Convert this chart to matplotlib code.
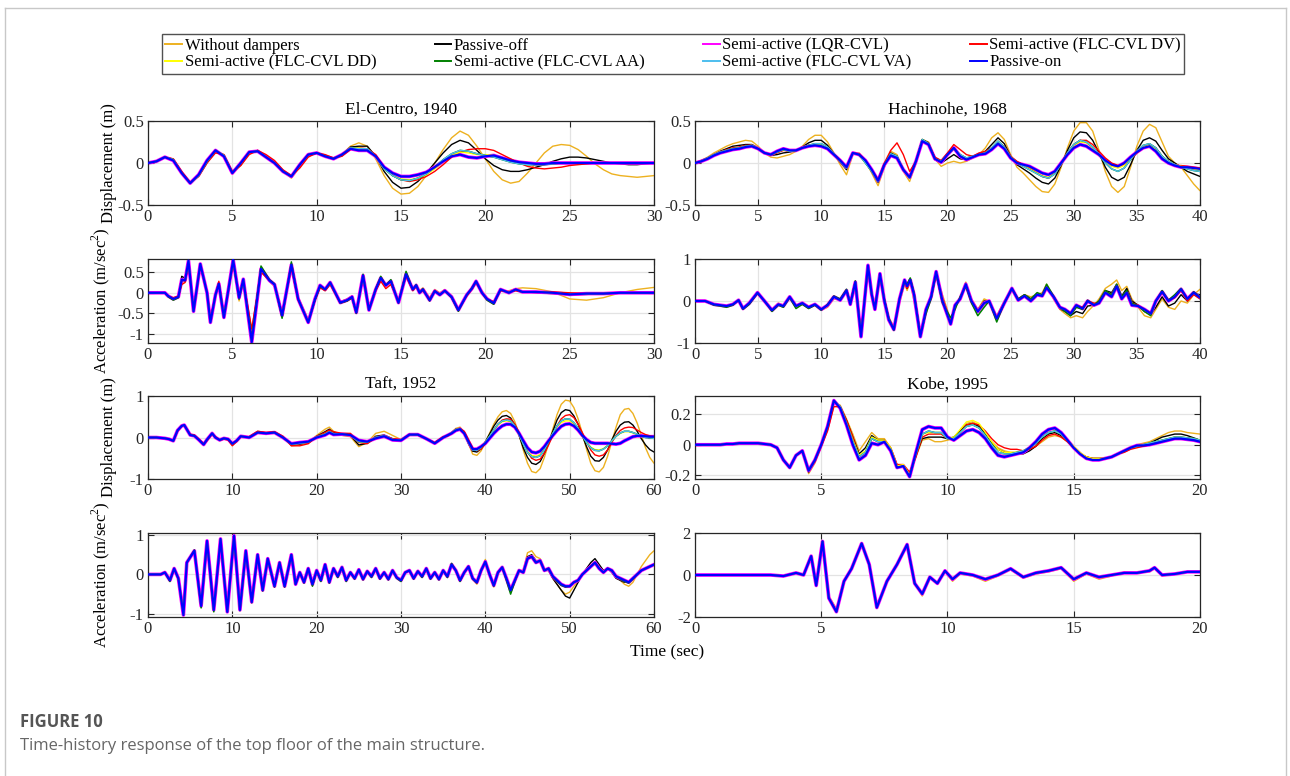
import numpy as np
import matplotlib.pyplot as plt
from matplotlib.lines import Line2D
from matplotlib.ticker import FuncFormatter

plt.rcParams['font.family'] = ['Liberation Serif', 'DejaVu Serif']
plt.rcParams['mathtext.fontset'] = 'custom'
plt.rcParams['mathtext.rm'] = 'Liberation Serif'
plt.rcParams['axes.unicode_minus'] = False

W, H = 1290, 776

labels = ['Without dampers', 'Passive-off', 'Semi-active (LQR-CVL)',
          'Semi-active (FLC-CVL DV)', 'Semi-active (FLC-CVL DD)',
          'Semi-active (FLC-CVL AA)', 'Semi-active (FLC-CVL VA)', 'Passive-on']
colors = ['#EDB120', '#000000', '#FF00FF', '#FF0000', '#FFFF00', '#008000', '#4DBEEE', '#0000FF']
widths = [1.0, 1.0, 2.6, 1.0, 1.0, 1.1, 1.0, 1.6]

# ---------------- El-Centro 1940, displacement (m) ----------------
elc_d_t = np.arange(0, 30.01, 0.5)
elc_d_none = [0, 0.02, 0.07, 0.04, -0.11, -0.24, -0.16, 0.00, 0.14, 0.10,
              -0.13, -0.03, 0.12, 0.15, 0.08, 0.02, -0.10, -0.18, -0.05, 0.09,
              0.12, 0.08, 0.06, 0.10, 0.20, 0.24, 0.20, 0.05, -0.15, -0.30,
              -0.37, -0.36, -0.28, -0.15, 0.00, 0.16, 0.30, 0.38, 0.33, 0.20,
              0.05, -0.10, -0.20, -0.24, -0.22, -0.12, 0.00, 0.12, 0.20, 0.22,
              0.21, 0.16, 0.08, -0.01, -0.08, -0.13, -0.15, -0.16, -0.17, -0.16,
              -0.15]
elc_d_poff = [0, 0.02, 0.07, 0.04, -0.11, -0.24, -0.15, 0.01, 0.15, 0.09,
              -0.12, -0.02, 0.12, 0.15, 0.07, 0.01, -0.10, -0.17, -0.03, 0.10,
              0.12, 0.08, 0.06, 0.10, 0.19, 0.20, 0.20, 0.08, -0.10, -0.23,
              -0.30, -0.29, -0.22, -0.12, 0.00, 0.12, 0.22, 0.27, 0.24, 0.15,
              0.05, -0.03, -0.08, -0.10, -0.10, -0.08, -0.05, -0.02, 0.02, 0.05,
              0.07, 0.07, 0.06, 0.04, 0.02, 0.00, -0.01, -0.02, -0.02, -0.01,
              0.00]
elc_d_lqr = [0, 0.02, 0.07, 0.03, -0.12, -0.24, -0.14, 0.03, 0.15, 0.08,
             -0.12, 0.00, 0.13, 0.14, 0.07, 0.00, -0.10, -0.16, -0.02, 0.10,
             0.12, 0.08, 0.05, 0.10, 0.17, 0.15, 0.15, 0.08, -0.05, -0.12,
             -0.16, -0.16, -0.14, -0.11, -0.05, 0.02, 0.08, 0.10, 0.07, 0.06,
             0.08, 0.09, 0.06, 0.03, 0.01, 0.00, -0.01, -0.01, 0.00, 0.00,
             0, 0, 0, 0, 0, 0, 0, 0, 0, 0,
             0]
elc_d_dv = [0, 0.02, 0.07, 0.05, -0.10, -0.23, -0.16, 0.00, 0.12, 0.10,
            -0.10, -0.03, 0.10, 0.15, 0.10, 0.03, -0.08, -0.15, -0.06, 0.07,
            0.12, 0.10, 0.06, 0.08, 0.16, 0.18, 0.17, 0.10, -0.05, -0.15,
            -0.20, -0.22, -0.20, -0.16, -0.10, -0.02, 0.07, 0.13, 0.16, 0.17,
            0.17, 0.15, 0.10, 0.05, 0.00, -0.04, -0.06, -0.07, -0.06, -0.05,
            -0.03, -0.02, -0.01, 0, 0, 0, 0, 0, 0, 0,
            0]
elc_d_dd = [0, 0.02, 0.07, 0.04, -0.12, -0.24, -0.15, 0.02, 0.15, 0.09,
            -0.12, 0.00, 0.13, 0.14, 0.07, 0.00, -0.10, -0.16, -0.02, 0.10,
            0.12, 0.08, 0.05, 0.10, 0.18, 0.18, 0.16, 0.07, -0.07, -0.15,
            -0.19, -0.20, -0.18, -0.14, -0.07, 0.02, 0.09, 0.13, 0.12, 0.10,
            0.10, 0.09, 0.05, 0.02, 0.00, -0.01, -0.01, -0.01, 0.00, 0.00,
            0, 0, 0, 0, 0, 0, 0, 0, 0, 0,
            0]
elc_d_va = [0, 0.02, 0.07, 0.04, -0.12, -0.24, -0.15, 0.02, 0.15, 0.09,
            -0.12, 0.00, 0.13, 0.14, 0.07, 0.00, -0.10, -0.16, -0.02, 0.10,
            0.12, 0.08, 0.05, 0.10, 0.18, 0.17, 0.17, 0.08, -0.07, -0.15,
            -0.20, -0.21, -0.18, -0.13, -0.05, 0.04, 0.11, 0.15, 0.14, 0.11,
            0.09, 0.07, 0.04, 0.01, -0.01, -0.02, -0.02, -0.02, -0.01, 0.00,
            0, 0, 0, 0, 0, 0, 0, 0, 0, 0,
            0]

# ---------------- Hachinohe 1968, displacement (m) ----------------
hac_d_t = np.arange(0, 40.01, 0.5)
hac_d_none = [0.00, 0.03, 0.07, 0.12, 0.16, 0.20, 0.23, 0.25, 0.27, 0.26,
              0.20, 0.12, 0.07, 0.06, 0.08, 0.10, 0.14, 0.20, 0.28, 0.33,
              0.33, 0.25, 0.12, -0.02, -0.14, 0.10, 0.12, 0.03, -0.12, -0.27,
              -0.05, 0.14, 0.10, -0.10, -0.22, 0.00, 0.28, 0.25, 0.05, -0.04,
              0.00, 0.02, 0.00, 0.02, 0.06, 0.10, 0.18, 0.30, 0.36, 0.28,
              0.10, -0.05, -0.12, -0.20, -0.28, -0.34, -0.35, -0.25, -0.05, 0.18,
              0.38, 0.48, 0.48, 0.38, 0.15, -0.10, -0.28, -0.35, -0.28, -0.05,
              0.20, 0.38, 0.46, 0.42, 0.25, 0.08, 0.00, -0.05, -0.15, -0.25,
              -0.33]
hac_d_poff = [0.00, 0.03, 0.06, 0.10, 0.14, 0.17, 0.20, 0.21, 0.22, 0.22,
              0.18, 0.12, 0.09, 0.10, 0.12, 0.13, 0.15, 0.19, 0.24, 0.27,
              0.27, 0.21, 0.11, 0.01, -0.08, 0.12, 0.11, 0.02, -0.10, -0.23,
              -0.03, 0.12, 0.08, -0.08, -0.18, 0.00, 0.28, 0.24, 0.04, 0.00,
              0.05, 0.10, 0.05, 0.04, 0.07, 0.10, 0.14, 0.22, 0.30, 0.23,
              0.08, -0.02, -0.07, -0.12, -0.18, -0.23, -0.25, -0.18, -0.03, 0.15,
              0.30, 0.37, 0.36, 0.27, 0.12, -0.05, -0.17, -0.21, -0.17, -0.02,
              0.15, 0.27, 0.30, 0.26, 0.15, 0.05, 0.00, -0.05, -0.10, -0.13,
              -0.16]
hac_d_lqr = [0.00, 0.02, 0.05, 0.09, 0.12, 0.14, 0.16, 0.17, 0.19, 0.20,
             0.17, 0.12, 0.10, 0.14, 0.17, 0.15, 0.15, 0.18, 0.20, 0.21,
             0.20, 0.17, 0.10, 0.03, -0.05, 0.12, 0.10, 0.03, -0.08, -0.21,
             -0.02, 0.09, 0.06, -0.08, -0.17, 0.02, 0.26, 0.22, 0.05, 0.01,
             0.10, 0.18, 0.08, 0.04, 0.07, 0.10, 0.11, 0.16, 0.23, 0.17,
             0.06, 0.00, -0.02, -0.04, -0.08, -0.12, -0.14, -0.10, 0.00, 0.10,
             0.18, 0.22, 0.20, 0.15, 0.10, 0.03, -0.02, -0.04, 0.00, 0.07,
             0.13, 0.18, 0.20, 0.14, 0.05, 0.00, -0.03, -0.05, -0.05, -0.06,
             -0.07]
hac_d_dv = [0.00, 0.02, 0.06, 0.10, 0.13, 0.16, 0.18, 0.19, 0.21, 0.21,
            0.17, 0.12, 0.10, 0.12, 0.15, 0.14, 0.15, 0.18, 0.21, 0.22,
            0.22, 0.19, 0.11, 0.03, -0.05, 0.12, 0.11, 0.03, -0.08, -0.20,
            0.00, 0.15, 0.24, 0.10, -0.10, 0.02, 0.27, 0.23, 0.07, 0.03,
            0.12, 0.22, 0.16, 0.10, 0.08, 0.12, 0.14, 0.18, 0.24, 0.20,
            0.08, 0.02, -0.02, -0.06, -0.11, -0.16, -0.18, -0.12, 0.00, 0.12,
            0.22, 0.27, 0.27, 0.22, 0.14, 0.06, 0.00, -0.03, -0.02, 0.04,
            0.12, 0.18, 0.22, 0.18, 0.08, 0.00, -0.03, -0.03, -0.04, -0.05,
            -0.06]
hac_d_dd = [0.00, 0.02, 0.06, 0.10, 0.13, 0.15, 0.17, 0.18, 0.20, 0.21,
            0.17, 0.12, 0.10, 0.13, 0.16, 0.14, 0.15, 0.18, 0.21, 0.22,
            0.22, 0.18, 0.10, 0.02, -0.06, 0.12, 0.10, 0.00, -0.10, -0.21,
            -0.02, 0.10, 0.07, -0.08, -0.17, 0.02, 0.27, 0.22, 0.05, 0.02,
            0.10, 0.17, 0.09, 0.05, 0.07, 0.10, 0.12, 0.17, 0.25, 0.18,
            0.07, 0.00, -0.03, -0.07, -0.11, -0.15, -0.17, -0.12, -0.01, 0.11,
            0.21, 0.25, 0.24, 0.18, 0.10, 0.02, -0.04, -0.06, -0.03, 0.05,
            0.13, 0.19, 0.21, 0.17, 0.08, 0.02, -0.02, -0.04, -0.05, -0.07,
            -0.08]
hac_d_va = [0.00, 0.02, 0.06, 0.10, 0.13, 0.15, 0.17, 0.18, 0.20, 0.21,
            0.17, 0.12, 0.10, 0.13, 0.16, 0.14, 0.15, 0.18, 0.21, 0.23,
            0.23, 0.19, 0.11, 0.02, -0.06, 0.12, 0.10, 0.00, -0.10, -0.22,
            -0.02, 0.11, 0.08, -0.08, -0.18, 0.02, 0.28, 0.23, 0.05, 0.02,
            0.10, 0.17, 0.10, 0.06, 0.08, 0.10, 0.12, 0.18, 0.26, 0.19,
            0.07, 0.00, -0.04, -0.08, -0.12, -0.16, -0.18, -0.13, -0.01, 0.12,
            0.22, 0.27, 0.25, 0.19, 0.10, 0.00, -0.07, -0.10, -0.06, 0.04,
            0.14, 0.21, 0.23, 0.18, 0.08, 0.02, -0.02, -0.05, -0.07, -0.09,
            -0.10]

# ---------------- Taft 1952, displacement (m) ----------------
taft_d_t = np.concatenate([
    [0, 1, 2, 2.5, 3, 3.5, 4, 4.3, 5, 5.5,
     6, 6.6, 7, 7.6, 8, 8.5, 9, 9.5, 10, 10.5,
     11, 12, 13, 14, 15, 16, 17, 18, 19, 20,
     21, 21.5, 22, 23, 24, 25, 26, 27, 28, 29,
     30, 31, 32, 33, 34, 35],
    np.arange(35.5, 60.01, 0.5)])
taft_d_none = [0, 0, -0.02, -0.04, -0.09, 0.15, 0.28, 0.30, 0.07, 0.05,
               -0.04, -0.18, -0.07, 0.10, 0.02, -0.08, -0.03, -0.05, -0.18, -0.08,
               0.03, 0.02, 0.15, 0.12, 0.14, 0.02, -0.20, -0.18, -0.12, 0.05,
               0.20, 0.25, 0.15, 0.05, 0.02, -0.22, -0.12, 0.10, 0.15, 0.05,
               -0.05, 0.05, 0.06, -0.03, -0.13, 0.02,
               0.05, 0.12, 0.22, 0.25, 0.12, -0.15, -0.40, -0.43, -0.32, -0.12,
               0.10, 0.32, 0.50, 0.62, 0.65, 0.58, 0.38, 0.08, -0.30, -0.62,
               -0.82, -0.85, -0.75, -0.48, -0.15, 0.20, 0.55, 0.80, 0.90, 0.88,
               0.72, 0.45, 0.10, -0.28, -0.62, -0.80, -0.83, -0.72, -0.45, -0.10,
               0.25, 0.55, 0.68, 0.70, 0.58, 0.35, 0.05, -0.25, -0.48, -0.62]
taft_d_poff = [0, 0, -0.02, -0.04, -0.09, 0.16, 0.28, 0.30, 0.06, 0.05,
               -0.05, -0.17, -0.06, 0.10, 0.01, -0.07, -0.03, -0.05, -0.17, -0.08,
               0.03, 0.01, 0.14, 0.11, 0.13, 0.01, -0.18, -0.16, -0.12, 0.03,
               0.14, 0.20, 0.12, 0.08, 0.05, -0.18, -0.14, 0.03, 0.06, -0.03,
               -0.06, 0.06, 0.06, -0.04, -0.13, 0.01,
               0.05, 0.12, 0.20, 0.22, 0.10, -0.15, -0.33, -0.35, -0.27, -0.10,
               0.08, 0.27, 0.42, 0.51, 0.53, 0.47, 0.30, 0.05, -0.25, -0.48,
               -0.62, -0.65, -0.58, -0.38, -0.12, 0.15, 0.42, 0.60, 0.67, 0.65,
               0.52, 0.32, 0.05, -0.22, -0.45, -0.56, -0.57, -0.48, -0.30, -0.06,
               0.15, 0.30, 0.37, 0.38, 0.30, 0.15, -0.03, -0.18, -0.29, -0.35]
taft_d_lqr = [0, 0, -0.02, -0.04, -0.08, 0.17, 0.28, 0.30, 0.06, 0.04,
              -0.05, -0.17, -0.05, 0.10, 0.00, -0.06, -0.02, -0.04, -0.15, -0.08,
              0.03, 0.00, 0.12, 0.10, 0.12, 0.00, -0.15, -0.12, -0.10, 0.00,
              0.06, 0.12, 0.07, 0.08, 0.06, -0.07, -0.10, -0.02, 0.03, -0.06,
              -0.07, 0.07, 0.07, -0.03, -0.14, 0.00,
              0.05, 0.10, 0.17, 0.20, 0.10, -0.10, -0.28, -0.28, -0.22, -0.14,
              -0.02, 0.10, 0.20, 0.28, 0.32, 0.32, 0.25, 0.10, -0.08, -0.25,
              -0.35, -0.37, -0.33, -0.22, -0.08, 0.05, 0.17, 0.27, 0.32, 0.33,
              0.28, 0.18, 0.05, -0.05, -0.12, -0.14, -0.14, -0.14, -0.14, -0.15,
              -0.16, -0.14, -0.08, -0.03, 0.02, 0.04, 0.04, 0.03, 0.02, 0.02]
taft_d_dv = [0, 0, -0.02, -0.04, -0.08, 0.15, 0.27, 0.30, 0.08, 0.06,
             -0.03, -0.15, -0.08, 0.08, 0.02, -0.06, -0.04, -0.06, -0.20, -0.10,
             0.02, 0.02, 0.15, 0.12, 0.14, 0.03, -0.20, -0.20, -0.15, 0.02,
             0.12, 0.18, 0.14, 0.10, 0.10, -0.12, -0.15, 0.00, 0.03, -0.03,
             -0.05, 0.07, 0.06, -0.03, -0.12, 0.02,
             0.03, 0.10, 0.18, 0.22, 0.15, -0.05, -0.25, -0.32, -0.28, -0.15,
             0.02, 0.18, 0.32, 0.42, 0.45, 0.44, 0.32, 0.12, -0.12, -0.35,
             -0.50, -0.55, -0.52, -0.38, -0.18, 0.05, 0.28, 0.45, 0.53, 0.55,
             0.48, 0.32, 0.12, -0.10, -0.30, -0.42, -0.45, -0.42, -0.30, -0.12,
             0.05, 0.17, 0.23, 0.25, 0.24, 0.18, 0.12, 0.07, 0.04, 0.02]
taft_d_dd = [0, 0, -0.02, -0.04, -0.08, 0.17, 0.28, 0.30, 0.06, 0.04,
             -0.05, -0.17, -0.05, 0.10, 0.00, -0.06, -0.02, -0.04, -0.15, -0.08,
             0.03, 0.00, 0.12, 0.10, 0.12, 0.00, -0.16, -0.14, -0.11, 0.01,
             0.08, 0.14, 0.09, 0.08, 0.06, -0.10, -0.11, 0.00, 0.04, -0.05,
             -0.06, 0.07, 0.07, -0.03, -0.14, 0.00,
             0.05, 0.11, 0.19, 0.21, 0.10, -0.12, -0.29, -0.30, -0.23, -0.11,
             0.03, 0.17, 0.30, 0.38, 0.40, 0.38, 0.27, 0.08, -0.15, -0.34,
             -0.43, -0.45, -0.41, -0.28, -0.09, 0.09, 0.26, 0.36, 0.40, 0.40,
             0.33, 0.20, 0.04, -0.11, -0.23, -0.29, -0.30, -0.27, -0.19, -0.08,
             0.03, 0.10, 0.14, 0.14, 0.11, 0.07, 0.03, 0.01, 0.00, 0.00]
taft_d_va = [0, 0, -0.02, -0.04, -0.08, 0.17, 0.28, 0.30, 0.06, 0.04,
             -0.05, -0.17, -0.05, 0.10, 0.00, -0.06, -0.02, -0.04, -0.15, -0.08,
             0.03, 0.00, 0.12, 0.10, 0.12, 0.00, -0.16, -0.14, -0.11, 0.01,
             0.08, 0.14, 0.09, 0.08, 0.06, -0.10, -0.11, 0.00, 0.04, -0.05,
             -0.06, 0.07, 0.07, -0.03, -0.14, 0.00,
             0.05, 0.11, 0.19, 0.21, 0.10, -0.12, -0.30, -0.31, -0.24, -0.12,
             0.03, 0.18, 0.32, 0.40, 0.42, 0.40, 0.28, 0.08, -0.16, -0.36,
             -0.46, -0.48, -0.44, -0.30, -0.10, 0.10, 0.28, 0.40, 0.45, 0.44,
             0.36, 0.22, 0.04, -0.12, -0.25, -0.31, -0.32, -0.28, -0.20, -0.08,
             0.03, 0.11, 0.15, 0.15, 0.12, 0.08, 0.03, 0.00, -0.01, -0.02]

# ---------------- Kobe 1995, displacement (m) ----------------
kobe_d_t = np.arange(0, 20.01, 0.25)
kobe_d_none = [0, 0, 0, 0, 0, 0.005, 0.005, 0.01,
               0.01, 0.01, 0.01, 0.005, 0.0, -0.02, -0.10, -0.15,
               -0.07, -0.04, -0.19, -0.12, -0.01, 0.10, 0.27, 0.26,
               0.17, 0.07, -0.04, 0.02, 0.08, 0.04, 0.04, -0.02,
               -0.13, -0.14, -0.20, -0.08, 0.03, 0.04, 0.02, 0.02,
               0.03, 0.04, 0.09, 0.14, 0.15, 0.13, 0.08, 0.02,
               -0.02, -0.04, -0.05, -0.05, -0.05, -0.03, -0.01, 0.02,
               0.05, 0.06, 0.05, 0.02, -0.02, -0.06, -0.08, -0.09,
               -0.09, -0.09, -0.08, -0.06, -0.04, -0.02, 0.00, 0.01,
               0.02, 0.04, 0.06, 0.08, 0.09, 0.09, 0.08, 0.075,
               0.07]
kobe_d_poff = [0, 0, 0, 0, 0, 0.005, 0.005, 0.01,
               0.01, 0.01, 0.01, 0.005, 0.0, -0.02, -0.10, -0.15,
               -0.07, -0.04, -0.18, -0.11, -0.01, 0.11, 0.28, 0.25,
               0.16, 0.05, -0.06, -0.02, 0.06, 0.03, 0.03, -0.03,
               -0.14, -0.14, -0.20, -0.07, 0.04, 0.05, 0.05, 0.05,
               0.04, 0.05, 0.09, 0.13, 0.14, 0.12, 0.07, 0.01,
               -0.03, -0.05, -0.06, -0.06, -0.06, -0.04, -0.01, 0.04,
               0.07, 0.08, 0.06, 0.02, -0.02, -0.06, -0.08, -0.09,
               -0.09, -0.09, -0.08, -0.06, -0.04, -0.02, -0.01, 0.00,
               0.01, 0.03, 0.05, 0.06, 0.07, 0.07, 0.06, 0.045,
               0.03]
kobe_d_lqr = [0, 0, 0, 0, 0, 0.005, 0.005, 0.01,
              0.01, 0.01, 0.01, 0.005, 0.0, -0.02, -0.10, -0.15,
              -0.07, -0.04, -0.17, -0.10, 0.00, 0.12, 0.29, 0.24,
              0.13, 0.00, -0.10, -0.07, 0.01, 0.00, 0.02, -0.04,
              -0.15, -0.14, -0.21, -0.05, 0.10, 0.12, 0.11, 0.11,
              0.05, 0.03, 0.06, 0.09, 0.10, 0.08, 0.04, -0.02,
              -0.07, -0.08, -0.07, -0.06, -0.05, -0.02, 0.02, 0.07,
              0.10, 0.11, 0.08, 0.03, -0.02, -0.06, -0.09, -0.10,
              -0.10, -0.09, -0.08, -0.06, -0.04, -0.02, -0.005, -0.005,
              0.0, 0.01, 0.02, 0.03, 0.04, 0.04, 0.035, 0.03,
              0.02]
kobe_d_dv = [0, 0, 0, 0, 0, 0.005, 0.005, 0.01,
             0.01, 0.01, 0.01, 0.005, 0.0, -0.02, -0.10, -0.15,
             -0.07, -0.04, -0.17, -0.11, -0.01, 0.09, 0.25, 0.25,
             0.16, 0.05, -0.08, -0.05, 0.04, 0.02, 0.03, -0.02,
             -0.13, -0.13, -0.18, -0.08, 0.05, 0.07, 0.07, 0.07,
             0.04, 0.04, 0.08, 0.13, 0.14, 0.13, 0.09, 0.04,
             0.00, -0.02, -0.03, -0.03, -0.04, -0.03, -0.01, 0.03,
             0.06, 0.07, 0.05, 0.02, -0.02, -0.06, -0.08, -0.09,
             -0.09, -0.09, -0.08, -0.06, -0.05, -0.03, -0.02, -0.01,
             0.0, 0.01, 0.02, 0.03, 0.04, 0.04, 0.035, 0.03,
             0.02]
kobe_d_dd = [0, 0, 0, 0, 0, 0.005, 0.005, 0.01,
             0.01, 0.01, 0.01, 0.005, 0.0, -0.02, -0.10, -0.15,
             -0.07, -0.04, -0.17, -0.10, 0.00, 0.12, 0.29, 0.25,
             0.14, 0.03, -0.07, -0.04, 0.05, 0.03, 0.03, -0.02,
             -0.14, -0.13, -0.20, -0.06, 0.07, 0.08, 0.08, 0.08,
             0.04, 0.05, 0.10, 0.15, 0.16, 0.14, 0.08, 0.02,
             -0.03, -0.05, -0.05, -0.05, -0.04, -0.02, 0.01, 0.05,
             0.08, 0.09, 0.07, 0.03, -0.01, -0.05, -0.08, -0.09,
             -0.09, -0.09, -0.08, -0.06, -0.04, -0.02, -0.01, 0.00,
             0.01, 0.02, 0.03, 0.04, 0.05, 0.05, 0.045, 0.04,
             0.03]
kobe_d_va = [0, 0, 0, 0, 0, 0.005, 0.005, 0.01,
             0.01, 0.01, 0.01, 0.005, 0.0, -0.02, -0.10, -0.15,
             -0.07, -0.04, -0.17, -0.10, 0.00, 0.12, 0.29, 0.25,
             0.14, 0.02, -0.08, -0.05, 0.04, 0.02, 0.02, -0.03,
             -0.15, -0.14, -0.21, -0.06, 0.07, 0.09, 0.08, 0.08,
             0.04, 0.04, 0.08, 0.12, 0.13, 0.11, 0.06, 0.00,
             -0.05, -0.06, -0.06, -0.05, -0.04, -0.02, 0.01, 0.05,
             0.08, 0.09, 0.07, 0.03, -0.02, -0.06, -0.09, -0.10,
             -0.10, -0.09, -0.08, -0.06, -0.04, -0.02, -0.01, 0.00,
             0.01, 0.02, 0.03, 0.04, 0.05, 0.05, 0.045, 0.04,
             0.03]

# ---------------- El-Centro 1940, acceleration (m/s^2) ----------------
elc_a_t = [0, 1.0, 1.2, 1.5, 1.8, 2.0, 2.2, 2.4, 2.7, 3.1,
           3.5, 3.7, 4.0, 4.2, 4.5, 5.05, 5.4, 5.65, 6.15, 6.7,
           7.2, 7.5, 7.95, 8.5, 8.9, 9.5, 9.9, 10.2, 10.5, 10.8,
           11.4, 11.8, 12.1, 12.35, 12.75, 13.1, 13.5, 13.8, 14.1, 14.4,
           14.85, 15.3, 15.7, 15.9, 16.1, 16.3, 16.5, 16.7, 17.0, 17.3,
           17.6, 18.0, 18.4, 18.9, 19.2, 19.45, 19.8, 20.1, 20.5, 20.9,
           21.4, 21.8, 22.2, 23.0, 24.0, 25.0, 26.0, 27.0, 28.0, 29.0,
           30.0]
elc_a_none = [0, 0, -0.08, -0.15, -0.12, 0.25, 0.28, 0.75, -0.42, 0.68,
              0.00, -0.68, -0.08, 0.20, -0.58, 0.75, -0.20, 0.30, -0.90, 0.52,
              0.28, 0.15, -0.50, 0.62, -0.10, -0.65, -0.12, 0.15, 0.05, 0.22,
              -0.22, -0.15, -0.08, -0.45, 0.38, -0.40, 0.10, 0.35, 0.15, 0.28,
              -0.22, 0.42, 0.05, 0.20, 0.05, 0.12, 0.00, -0.12, 0.08, 0.00,
              0.08, -0.08, -0.38, -0.08, 0.10, 0.22, 0.05, -0.12, -0.25, 0.05,
              0.05, 0.10, 0.12, 0.10, 0.02, -0.15, -0.18, -0.12, 0.00, 0.08,
              0.13]
elc_a_poff = [0, 0, -0.08, -0.15, -0.10, 0.40, 0.35, 0.75, -0.42, 0.68,
              0.00, -0.68, -0.08, 0.22, -0.58, 0.76, -0.15, 0.32, -1.00, 0.55,
              0.28, 0.18, -0.52, 0.65, -0.12, -0.68, -0.12, 0.16, 0.06, 0.24,
              -0.22, -0.16, -0.08, -0.46, 0.40, -0.40, 0.08, 0.35, 0.16, 0.27,
              -0.22, 0.43, 0.06, 0.18, 0.02, 0.10, -0.03, -0.14, 0.06, -0.03,
              0.06, -0.08, -0.40, -0.06, 0.10, 0.25, 0.02, -0.15, -0.22, 0.05,
              0.02, 0.06, 0.03, 0.00, -0.02, -0.05, -0.04, -0.02, 0.00, 0.00,
              0.00]
elc_a_lqr = [0, 0, -0.08, -0.15, -0.10, 0.32, 0.30, 0.78, -0.45, 0.70,
             0.00, -0.72, -0.05, 0.22, -0.60, 0.80, -0.12, 0.33, -1.20, 0.58,
             0.30, 0.20, -0.55, 0.68, -0.15, -0.72, -0.15, 0.18, 0.08, 0.25,
             -0.24, -0.18, -0.10, -0.48, 0.42, -0.42, 0.08, 0.36, 0.18, 0.28,
             -0.24, 0.45, 0.08, 0.18, 0.00, 0.08, -0.05, -0.18, 0.04, -0.05,
             0.05, -0.10, -0.42, -0.05, 0.10, 0.28, 0.00, -0.15, -0.25, 0.08,
             0.00, 0.08, 0.02, 0.02, 0.00, -0.04, -0.02, -0.02, 0.00, 0.00,
             0.00]
elc_a_dv = [0, 0, -0.08, -0.12, -0.08, 0.20, 0.25, 0.70, -0.40, 0.65,
            0.02, -0.65, -0.05, 0.28, -0.55, 0.72, -0.10, 0.30, -0.88, 0.50,
            0.30, 0.20, -0.50, 0.60, -0.18, -0.70, -0.18, 0.12, 0.05, 0.20,
            -0.25, -0.20, -0.12, -0.50, 0.38, -0.42, 0.05, 0.28, 0.10, 0.20,
            -0.20, 0.40, 0.05, 0.15, 0.00, 0.05, -0.05, -0.15, 0.05, -0.05,
            0.05, -0.10, -0.40, -0.08, 0.08, 0.25, 0.00, -0.15, -0.22, 0.05,
            0.02, 0.05, 0.02, 0.02, 0.02, 0.00, -0.02, -0.02, 0.00, 0.00,
            0.00]
elc_a_aa = [0, 0, -0.10, -0.18, -0.12, 0.30, 0.30, 0.75, -0.45, 0.70,
            0.00, -0.70, -0.05, 0.22, -0.60, 0.78, -0.15, 0.30, -1.10, 0.65,
            0.32, 0.22, -0.62, 0.75, -0.15, -0.72, -0.18, 0.15, 0.08, 0.25,
            -0.25, -0.20, -0.12, -0.50, 0.45, -0.42, 0.10, 0.40, 0.18, 0.32,
            -0.25, 0.52, 0.08, 0.20, 0.00, 0.10, -0.05, -0.20, 0.05, -0.05,
            0.05, -0.12, -0.45, -0.05, 0.12, 0.28, 0.00, -0.18, -0.28, 0.08,
            0.00, 0.08, 0.02, 0.02, 0.00, -0.04, -0.02, -0.02, 0.00, 0.00,
            0.00]

# ---------------- Hachinohe 1968, acceleration (m/s^2) ----------------
hac_a_t = [0, 0.8, 1.5, 2.0, 2.5, 3.0, 3.45, 3.8, 4.3, 4.95,
           5.5, 6.1, 6.6, 7.0, 7.5, 8.0, 8.5, 9.0, 9.5, 10.0,
           10.5, 11.0, 11.5, 12.0, 12.3, 12.7, 13.15, 13.7, 14.0, 14.25,
           14.65, 15.0, 15.35, 15.75, 16.2, 16.6, 16.8, 17.05, 17.35, 17.85,
           18.3, 18.7, 19.1, 19.6, 20.25, 20.6, 21.0, 21.45, 21.9, 22.4,
           22.9, 23.3, 23.9, 24.5, 25.1, 25.6, 26.1, 26.6, 27.1, 27.5,
           27.85, 28.4, 28.9, 29.3, 29.75, 30.2, 30.7, 31.1, 31.6, 32.0,
           32.5, 33.0, 33.4, 33.8, 34.2, 34.6, 35.1, 35.6, 36.1, 36.5,
           37.0, 37.5, 38.0, 38.5, 39.0, 39.5, 40.0]
hac_a_none = [0, 0, -0.08, -0.10, -0.12, -0.08, 0.00, -0.15, -0.05, 0.18,
              0.02, -0.20, -0.05, -0.10, 0.08, -0.10, -0.05, -0.12, -0.08, -0.22,
              -0.15, 0.05, 0.02, 0.22, -0.10, 0.40, -0.80, 0.80, 0.10, -0.15,
              0.60, 0.00, -0.40, -0.60, -0.05, 0.40, 0.25, 0.45, 0.00, -0.75,
              -0.20, 0.15, 0.65, 0.15, -0.45, -0.15, 0.10, 0.45, 0.05, -0.20,
              0.05, 0.00, -0.35, 0.00, 0.28, 0.05, 0.15, 0.10, 0.15, 0.20,
              0.40, 0.05, -0.20, -0.30, -0.40, -0.35, -0.40, -0.25, -0.10, 0.05,
              0.30, 0.40, 0.50, 0.25, 0.35, 0.05, -0.15, -0.35, -0.40, -0.20,
              0.05, -0.15, -0.20, 0.00, -0.05, 0.15, 0.28]
hac_a_poff = [0, 0, -0.08, -0.10, -0.12, -0.08, 0.02, -0.17, -0.05, 0.20,
              0.00, -0.22, -0.08, -0.12, 0.10, -0.12, -0.05, -0.15, -0.08, -0.20,
              -0.12, 0.08, 0.02, 0.25, -0.08, 0.45, -0.82, 0.82, 0.12, -0.18,
              0.62, 0.00, -0.42, -0.65, 0.02, 0.45, 0.30, 0.48, 0.10, -0.80,
              -0.20, 0.12, 0.68, 0.08, -0.50, -0.12, 0.08, 0.42, 0.02, -0.22,
              0.00, 0.00, -0.38, -0.02, 0.30, 0.05, 0.15, 0.05, 0.15, 0.15,
              0.35, 0.08, -0.18, -0.25, -0.35, -0.25, -0.30, -0.12, -0.10, 0.00,
              0.25, 0.20, 0.40, 0.12, 0.30, 0.00, -0.10, -0.25, -0.32, -0.15,
              0.10, -0.12, -0.05, 0.15, 0.00, 0.18, 0.15]
hac_a_lqr = [0, 0, -0.08, -0.10, -0.12, -0.08, 0.02, -0.18, -0.05, 0.20,
             0.00, -0.22, -0.08, -0.12, 0.10, -0.12, -0.05, -0.15, -0.08, -0.20,
             -0.10, 0.10, 0.02, 0.25, -0.08, 0.45, -0.85, 0.85, 0.15, -0.20,
             0.65, 0.00, -0.45, -0.68, 0.05, 0.50, 0.35, 0.50, 0.15, -0.85,
             -0.20, 0.10, 0.70, 0.00, -0.55, -0.10, 0.05, 0.40, 0.00, -0.25,
             -0.05, 0.00, -0.42, -0.05, 0.30, 0.02, 0.12, 0.00, 0.15, 0.12,
             0.32, 0.10, -0.15, -0.20, -0.30, -0.10, -0.18, 0.00, -0.10, -0.05,
             0.20, 0.10, 0.35, 0.05, 0.20, -0.10, -0.12, -0.20, -0.30, 0.00,
             0.22, 0.00, 0.10, 0.28, 0.05, 0.20, 0.08]
hac_a_dv = [0, 0, -0.08, -0.10, -0.12, -0.08, 0.02, -0.18, -0.05, 0.20,
            0.00, -0.22, -0.08, -0.12, 0.10, -0.12, -0.05, -0.15, -0.08, -0.20,
            -0.10, 0.10, 0.02, 0.25, -0.08, 0.42, -0.80, 0.82, 0.12, -0.18,
            0.62, 0.00, -0.45, -0.65, 0.05, 0.48, 0.30, 0.50, 0.15, -0.82,
            -0.22, 0.10, 0.65, 0.05, -0.50, -0.10, 0.05, 0.40, 0.00, -0.25,
            -0.05, 0.00, -0.40, -0.05, 0.28, 0.02, 0.12, 0.02, 0.15, 0.12,
            0.32, 0.10, -0.15, -0.20, -0.28, -0.10, -0.15, 0.00, -0.05, -0.05,
            0.20, 0.15, 0.35, 0.08, 0.20, -0.05, -0.10, -0.20, -0.28, 0.00,
            0.20, 0.00, 0.08, 0.25, 0.00, 0.15, 0.05]
hac_a_aa = [0, 0, -0.10, -0.12, -0.15, -0.10, 0.02, -0.20, -0.08, 0.18,
            0.00, -0.25, -0.10, -0.15, 0.08, -0.18, -0.08, -0.18, -0.10, -0.22,
            -0.08, 0.12, 0.05, 0.28, -0.05, 0.48, -0.80, 0.80, 0.15, -0.15,
            0.60, 0.05, -0.40, -0.70, 0.05, 0.45, 0.40, 0.55, 0.20, -0.80,
            -0.30, 0.05, 0.65, -0.05, -0.40, -0.20, 0.10, 0.35, -0.05, -0.35,
            -0.15, 0.00, -0.50, -0.05, 0.30, 0.05, 0.15, 0.05, 0.20, 0.15,
            0.40, 0.12, -0.15, -0.25, -0.35, -0.15, -0.20, 0.02, -0.10, 0.00,
            0.25, 0.15, 0.40, 0.10, 0.25, -0.05, -0.12, -0.25, -0.35, 0.00,
            0.25, 0.02, 0.15, 0.30, 0.05, 0.22, 0.10]

# ---------------- Taft 1952, acceleration (m/s^2) ----------------
taft_a_t = np.concatenate([
    [0, 1.5, 2.0, 2.6, 3.1, 3.6, 4.2, 4.6, 5.5, 6.3,
     7.0, 7.8, 8.6, 9.4, 10.2, 10.9, 11.6, 12.3, 13.0, 13.6,
     14.2, 15.0, 15.6, 16.2, 16.6],
    np.arange(17, 60.01, 0.5)])
taft_a_none = ([0, 0, 0.05, -0.15, 0.15, -0.10, -0.95, 0.30, 0.60, -0.75,
                0.85, -0.85, 0.85, -0.90, 0.95, -0.85, 0.55, -0.65, 0.50, -0.40,
                0.40, -0.30, 0.30, -0.30, 0.10] +
               [0.45, -0.25, 0.05, -0.20, 0.15, -0.25, 0.10, -0.15, 0.25, -0.20,
                0.15, -0.05, 0.18, -0.15, 0.05, -0.10, 0.12, -0.12, 0.08, -0.05,
                0.15, -0.10, 0.05, -0.12, 0.10, -0.08, -0.15, 0.05, 0.10, -0.10,
                0.08, -0.05, 0.15, -0.10, 0.05, -0.12, 0.10, -0.05, 0.25, 0.12,
                -0.15, 0.05, 0.22, -0.12, -0.25, 0.10, 0.38, 0.00, -0.32, 0.05,
                0.20, -0.12, -0.45, -0.20, 0.10, 0.10, 0.55, 0.60, 0.45, 0.40,
                0.15, 0.10, -0.10, -0.25, -0.40, -0.50, -0.45, -0.30, -0.15, 0.00,
                0.10, 0.20, 0.25, 0.20, 0.10, 0.15, 0.10, -0.05, -0.15, -0.25,
                -0.30, -0.20, 0.00, 0.20, 0.35, 0.50, 0.60])
taft_a_poff = ([0, 0, 0.05, -0.15, 0.15, -0.10, -1.00, 0.30, 0.60, -0.80,
                0.85, -0.90, 0.90, -0.95, 0.98, -0.90, 0.60, -0.70, 0.50, -0.40,
                0.40, -0.30, 0.30, -0.30, 0.10] +
               [0.50, -0.25, 0.05, -0.20, 0.15, -0.25, 0.10, -0.15, 0.25, -0.20,
                0.15, -0.05, 0.18, -0.15, 0.05, -0.10, 0.12, -0.12, 0.08, -0.05,
                0.15, -0.10, 0.05, -0.12, 0.10, -0.08, -0.15, 0.05, 0.10, -0.10,
                0.08, -0.05, 0.15, -0.10, 0.05, -0.12, 0.10, -0.05, 0.25, 0.10,
                -0.15, 0.05, 0.20, -0.10, -0.22, 0.10, 0.35, 0.00, -0.30, 0.05,
                0.18, -0.10, -0.42, -0.18, 0.10, 0.05, 0.45, 0.50, 0.35, 0.35,
                0.10, 0.10, -0.10, -0.25, -0.40, -0.55, -0.60, -0.40, -0.20, 0.00,
                0.15, 0.30, 0.40, 0.25, 0.10, 0.15, 0.05, -0.10, -0.15, -0.20,
                -0.20, -0.10, 0.00, 0.10, 0.15, 0.20, 0.25])
taft_a_lqr = ([0, 0, 0.05, -0.15, 0.15, -0.10, -1.03, 0.30, 0.60, -0.80,
               0.85, -0.90, 0.90, -0.95, 0.98, -0.90, 0.60, -0.70, 0.50, -0.40,
               0.40, -0.30, 0.30, -0.30, 0.10] +
              [0.50, -0.25, 0.05, -0.20, 0.15, -0.25, 0.10, -0.15, 0.25, -0.20,
               0.15, -0.05, 0.18, -0.15, 0.05, -0.10, 0.12, -0.12, 0.08, -0.05,
               0.15, -0.10, 0.05, -0.12, 0.10, -0.08, -0.15, 0.05, 0.10, -0.10,
               0.08, -0.05, 0.15, -0.10, 0.05, -0.12, 0.10, -0.05, 0.25, 0.10,
               -0.15, 0.05, 0.20, -0.10, -0.20, 0.10, 0.32, 0.00, -0.28, 0.05,
               0.18, -0.10, -0.40, -0.15, 0.10, 0.05, 0.40, 0.45, 0.30, 0.35,
               0.10, 0.15, -0.05, -0.15, -0.25, -0.30, -0.30, -0.20, -0.15, 0.00,
               0.10, 0.20, 0.30, 0.15, 0.05, 0.15, 0.10, -0.05, -0.10, -0.15,
               -0.20, -0.10, 0.00, 0.10, 0.15, 0.20, 0.25])
taft_a_aa = ([0, 0, 0.05, -0.18, 0.15, -0.12, -0.98, 0.30, 0.62, -0.85,
              0.85, -0.95, 0.88, -0.95, 0.95, -0.92, 0.58, -0.72, 0.50, -0.42,
              0.40, -0.32, 0.30, -0.32, 0.10] +
             [0.50, -0.25, 0.05, -0.22, 0.15, -0.30, 0.08, -0.18, 0.25, -0.22,
              0.15, -0.08, 0.18, -0.18, 0.05, -0.12, 0.12, -0.14, 0.08, -0.08,
              0.15, -0.12, 0.05, -0.14, 0.10, -0.10, -0.18, 0.05, 0.10, -0.12,
              0.08, -0.08, 0.15, -0.12, 0.05, -0.14, 0.10, -0.08, 0.28, 0.10,
              -0.18, 0.05, 0.20, -0.12, -0.22, 0.10, 0.32, 0.00, -0.30, 0.05,
              0.18, -0.15, -0.50, -0.18, 0.10, 0.05, 0.40, 0.45, 0.30, 0.35,
              0.10, 0.15, -0.05, -0.18, -0.28, -0.32, -0.30, -0.20, -0.15, 0.00,
              0.10, 0.20, 0.30, 0.15, 0.05, 0.15, 0.10, -0.05, -0.12, -0.18,
              -0.22, -0.12, 0.00, 0.10, 0.15, 0.20, 0.25])

# ---------------- Kobe 1995, acceleration (m/s^2) ----------------
kobe_a_t = [0, 3.0, 3.5, 4.0, 4.3, 4.6, 4.8, 5.05, 5.3, 5.6,
            5.9, 6.2, 6.6, 6.9, 7.2, 7.6, 8.0, 8.4, 8.7, 9.0,
            9.3, 9.6, 9.9, 10.2, 10.5, 11.0, 11.5, 12.0, 12.5, 13.0,
            13.5, 14.0, 14.5, 15.0, 15.5, 16.0, 16.5, 17.0, 17.5, 18.0,
            18.2, 18.5, 19.0, 19.5, 20.0]
kobe_a_none = [0, 0, -0.05, 0.10, 0.00, 0.85, -0.45, 1.55, -1.00, -1.60,
               -0.30, 0.30, 1.45, 0.50, -1.45, -0.30, 0.50, 1.50, -0.40, -1.00,
               -0.15, -0.40, 0.15, -0.30, 0.05, -0.05, -0.30, -0.05, 0.25, -0.15,
               0.05, 0.15, 0.30, -0.30, 0.05, -0.20, -0.05, 0.15, 0.10, 0.15,
               0.30, -0.05, 0.05, 0.15, 0.15]
kobe_a_lqr = [0, 0, -0.05, 0.10, 0.00, 0.90, -0.50, 1.60, -1.10, -1.75,
              -0.30, 0.30, 1.50, 0.50, -1.55, -0.30, 0.50, 1.45, -0.40, -0.90,
              -0.10, -0.40, 0.20, -0.20, 0.10, 0.00, -0.20, 0.00, 0.30, -0.10,
              0.10, 0.20, 0.35, -0.20, 0.10, -0.10, 0.00, 0.10, 0.10, 0.20,
              0.35, 0.00, 0.05, 0.15, 0.15]

# series order: none, passive-off, LQR, DV, DD, AA, VA, passive-on
panels = [
    dict(pos=(148, 121, 654, 205), t=elc_d_t, title='El-Centro, 1940', ylabel='Displacement (m)',
         ys=[elc_d_none, elc_d_poff, elc_d_lqr, elc_d_dv, elc_d_dd, elc_d_va, elc_d_va, elc_d_lqr],
         xlim=(0, 30), xticks=np.arange(0, 31, 5), ylim=(-0.5, 0.5), yticks=[-0.5, 0, 0.5]),
    dict(pos=(695, 121, 1200, 205), t=hac_d_t, title='Hachinohe, 1968', ylabel=None,
         ys=[hac_d_none, hac_d_poff, hac_d_lqr, hac_d_dv, hac_d_dd, hac_d_va, hac_d_va, hac_d_lqr],
         xlim=(0, 40), xticks=np.arange(0, 41, 5), ylim=(-0.5, 0.5), yticks=[-0.5, 0, 0.5]),
    dict(pos=(148, 259, 654, 343), t=elc_a_t, title=None, ylabel='Acceleration (m/sec$^2$)',
         ys=[elc_a_none, elc_a_poff, elc_a_lqr, elc_a_dv, elc_a_lqr, elc_a_aa, elc_a_lqr, elc_a_lqr],
         xlim=(0, 30), xticks=np.arange(0, 31, 5), ylim=(-1.22, 0.82), yticks=[-1, -0.5, 0, 0.5]),
    dict(pos=(695, 259, 1200, 343), t=hac_a_t, title=None, ylabel=None,
         ys=[hac_a_none, hac_a_poff, hac_a_lqr, hac_a_dv, hac_a_lqr, hac_a_aa, hac_a_lqr, hac_a_lqr],
         xlim=(0, 40), xticks=np.arange(0, 41, 5), ylim=(-1, 1), yticks=[-1, 0, 1]),
    dict(pos=(148, 396, 654, 479), t=taft_d_t, title='Taft, 1952', ylabel='Displacement (m)',
         ys=[taft_d_none, taft_d_poff, taft_d_lqr, taft_d_dv, taft_d_dd, taft_d_va, taft_d_va, taft_d_lqr],
         xlim=(0, 60), xticks=np.arange(0, 61, 10), ylim=(-1, 1), yticks=[-1, 0, 1]),
    dict(pos=(695, 396, 1200, 479), t=kobe_d_t, title='Kobe, 1995', ylabel=None,
         ys=[kobe_d_none, kobe_d_poff, kobe_d_lqr, kobe_d_dv, kobe_d_dd, kobe_d_va, kobe_d_va, kobe_d_lqr],
         xlim=(0, 20), xticks=np.arange(0, 21, 5), ylim=(-0.225, 0.32), yticks=[-0.2, 0, 0.2]),
    dict(pos=(148, 533, 654, 617), t=taft_a_t, title=None, ylabel='Acceleration (m/sec$^2$)',
         ys=[taft_a_none, taft_a_poff, taft_a_lqr, taft_a_lqr, taft_a_lqr, taft_a_aa, taft_a_lqr, taft_a_lqr],
         xlim=(0, 60), xticks=np.arange(0, 61, 10), ylim=(-1.08, 1.05), yticks=[-1, 0, 1]),
    dict(pos=(695, 533, 1200, 617), t=kobe_a_t, title=None, ylabel=None,
         ys=[kobe_a_none, kobe_a_lqr, kobe_a_lqr, kobe_a_lqr, kobe_a_lqr, kobe_a_lqr, kobe_a_lqr, kobe_a_lqr],
         xlim=(0, 20), xticks=np.arange(0, 21, 5), ylim=(-2, 2), yticks=[-2, 0, 2]),
]

fig = plt.figure(figsize=(W / 100, H / 100), dpi=100)

# light frame around the figure panel
frame_kw = dict(color='#c8c8c8', lw=1.0, transform=fig.transFigure)
fig.add_artist(Line2D([4.5 / W, 4.5 / W], [0, 1 - 7.5 / H], **frame_kw))
fig.add_artist(Line2D([4.5 / W, 1285.5 / W], [1 - 7.5 / H, 1 - 7.5 / H], **frame_kw))
fig.add_artist(Line2D([1285.5 / W, 1285.5 / W], [0, 1 - 7.5 / H], **frame_kw))

fmt = FuncFormatter(lambda v, p: '%g' % v)
for p in panels:
    x0, top, x1, bot = p['pos']
    ax = fig.add_axes([x0 / W, 1 - bot / H, (x1 - x0) / W, (bot - top) / H])
    for y, c, lw, z in zip(p['ys'], colors, widths, range(8)):
        ax.plot(p['t'], y, color=c, lw=lw, zorder=2 + z * 0.1,
                solid_joinstyle='round', solid_capstyle='round')
    ax.set_xlim(*p['xlim'])
    ax.set_ylim(*p['ylim'])
    ax.set_xticks(p['xticks'])
    ax.set_yticks(p['yticks'])
    ax.xaxis.set_major_formatter(fmt)
    ax.yaxis.set_major_formatter(fmt)
    ax.grid(True, color='#e3e3e3', lw=0.9)
    ax.set_axisbelow(True)
    ax.tick_params(direction='in', length=4, width=0.8, top=True, right=True,
                   labelsize=12, pad=3, colors='#262626')
    for s in ax.spines.values():
        s.set_color('#262626')
        s.set_linewidth(0.9)
    if p['title']:
        ax.set_title(p['title'], fontsize=12.5, pad=5)
    if p['ylabel']:
        ax.set_ylabel(p['ylabel'], fontsize=12)
        ax.yaxis.set_label_coords(-0.062 if 'Disp' in p['ylabel'] else -0.072, 0.5)

fig.text(667 / W, 1 - 652 / H, 'Time (sec)', fontsize=12.5, ha='center', va='center')

handles = [Line2D([], [], color=c, lw=1.4) for c in colors]
order = [0, 4, 1, 5, 2, 6, 3, 7]
leg = fig.legend([handles[i] for i in order], [labels[i] for i in order],
                 loc='upper left', bbox_to_anchor=(162 / W, 1 - 42 / H, 1022 / W, 0.01),
                 mode='expand', ncol=4, fontsize=12, frameon=True, fancybox=False,
                 handlelength=1.0, handletextpad=0.15, columnspacing=0.2,
                 labelspacing=0.05, borderpad=0.2, borderaxespad=0)
leg.get_frame().set_edgecolor('#262626')
leg.get_frame().set_linewidth(1.0)

fig.text(20 / W, 1 - 722 / H, 'FIGURE 10', fontsize=12, fontweight='bold',
         family=['Open Sans', 'DejaVu Sans'], color='#555555', va='center')
fig.text(20 / W, 1 - 746 / H, 'Time-history response of the top floor of the main structure.',
         fontsize=12, family=['Open Sans', 'DejaVu Sans'], color='#666666', va='center')

fig.savefig('out.png', dpi=100)
